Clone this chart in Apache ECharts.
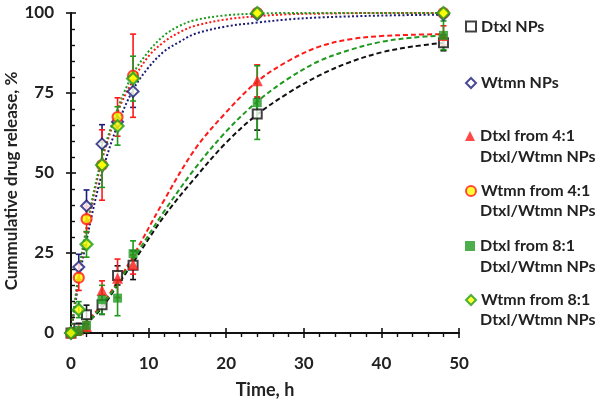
<!DOCTYPE html>
<html><head><meta charset="utf-8">
<script src="https://cdn.jsdelivr.net/npm/echarts@6/dist/echarts.min.js"></script>
<style>html,body{margin:0;padding:0;background:#fff}#c{width:600px;height:400px}</style>
</head><body><div id="c"></div>
<script>
// ---- data ----
const times = [0, 1, 2, 4, 6, 8, 24, 48];
const dtxlNP    = [0, 1.5, 5.7, 8.8, 18, 21.2, 68.4, 90.7];
const dtxlNPErr = [0, 1.5, 3, 3, 3, 4.5, 5, 2.5];
const wtmnNP    = [0, 20.6, 39.7, 59.1, 66, 75.5, 99.5, 99.5];
const wtmnNPErr = [0, 4, 5, 6, 0, 5, 0, 0];
const dtxl41    = [0, 1, 2, 13.3, 17.1, 21.4, 78.8, 93];
const dtxl41Err = [0, 1, 1.5, 3, 6, 3, 5, 3];
const wtmn41    = [0, 17.3, 35.6, 52.5, 67.5, 80.4, 100, 100];
const wtmn41Err = [0, 4, 4, 11, 6, 13, 0, 0];
const dtxl81    = [0, 0.8, 2.4, 10.4, 10.9, 24.8, 72, 93];
const dtxl81Err = [0, 1.5, 2, 4.5, 5.5, 4, 11.5, 4.5];
const wtmn81    = [0, 7.3, 27.7, 52.5, 64.7, 79.5, 100, 100];
const wtmn81Err = [0, 2.5, 4, 7, 6, 7, 0, 0];

// fitted curves
const curveTW = [0, 1, 2, 4, 6, 8, 10, 12, 14, 16, 20, 24, 28, 32, 40, 48];
const curveWtmnNP = [0, 16, 29, 50, 65, 76, 83, 88, 91, 93.5, 95.8, 97, 98, 98.6, 99.2, 99.5];
const curveWtmn41 = [0, 18, 32, 54, 69, 79, 86.5, 91, 94, 96, 98, 99, 99.6, 99.8, 100, 100];
const curveWtmn81 = [0, 19, 33, 55, 70, 81, 88, 93, 96, 97.8, 99.3, 99.8, 100, 100, 100, 100];
const curveTD = [0, 2, 4, 6, 8, 12, 16, 20, 24, 28, 32, 36, 40, 44, 48];
const curveDtxlNP = [0, 3, 8, 15, 22, 36.5, 48.5, 59.5, 68.3, 75, 80.5, 84.7, 87.7, 89.5, 90.7];
const curveDtxl41 = [0, 3.5, 9, 16, 24, 41.5, 57.5, 69, 78.6, 85, 89.5, 91.8, 92.8, 93.2, 93.4];
const curveDtxl81 = [0, 3, 8.5, 15.5, 23, 38, 51.5, 63, 72.3, 79.5, 85, 88.5, 91, 92.3, 93];

const xTicks = [0, 10, 20, 30, 40, 50];
const yTicks = [0, 25, 50, 75, 100];

const names = ['Dtxl NPs', 'Wtmn NPs', 'Dtxl from 4:1', 'Wtmn from 4:1', 'Dtxl from 8:1', 'Wtmn from 8:1'];
const secondLine = 'Dtxl/Wtmn NPs';
const yTitle = 'Cummulative drug release, %';
const xTitle = 'Time, h';

// ---- styles ----
const BLACK = '#111', NAVY = '#1c1c78', RED = '#ff1a1a', GREEN = '#1f9a1f', YELLOW = '#ffff00';
const FONT = 'Lato';
const pts = (xs, ys) => xs.map((t, i) => [t, ys[i]]);
const errPts = (ys, es) => times.map((t, i) => [t, ys[i], es[i]]);

function errSeries(ys, es, color) {
  return {
    type: 'custom', z: 2, silent: true,
    data: errPts(ys, es),
    encode: { x: 0, y: 1 },
    renderItem: function (params, api) {
      const x = api.value(0), y = api.value(1), e = api.value(2);
      if (!e) return null;
      const top = api.coord([x, y + e]);
      const bot = api.coord([x, y - e]);
      const w = 3;
      const st = { stroke: color, lineWidth: 1.6 };
      return {
        type: 'group', children: [
          { type: 'line', shape: { x1: top[0], y1: top[1], x2: bot[0], y2: bot[1] }, style: st },
          { type: 'line', shape: { x1: top[0] - w, y1: top[1], x2: top[0] + w, y2: top[1] }, style: st },
          { type: 'line', shape: { x1: bot[0] - w, y1: bot[1], x2: bot[0] + w, y2: bot[1] }, style: st }
        ]
      };
    }
  };
}
function curve(xs, ys, color, dash) {
  return {
    type: 'line', z: 1, silent: true, smooth: 0.35, showSymbol: false, symbol: 'none',
    data: pts(xs, ys),
    lineStyle: { color: color, width: 2, type: dash }
  };
}
function scatter(name, ys, symbol, size, style) {
  return {
    name: name, type: 'scatter', z: 3, symbol: symbol, symbolSize: size,
    data: pts(times, ys), itemStyle: style
  };
}

const DOT = [2, 2.2], DASH = [5, 3];
const series = [
  curve(curveTD, curveDtxlNP, BLACK, DASH),
  curve(curveTW, curveWtmnNP, NAVY, DOT),
  curve(curveTD, curveDtxl41, RED, DASH),
  curve(curveTW, curveWtmn41, RED, DOT),
  curve(curveTD, curveDtxl81, GREEN, DASH),
  curve(curveTW, curveWtmn81, GREEN, DOT),
  errSeries(dtxlNP, dtxlNPErr, BLACK),
  errSeries(wtmnNP, wtmnNPErr, NAVY),
  errSeries(dtxl41, dtxl41Err, RED),
  errSeries(wtmn41, wtmn41Err, RED),
  errSeries(dtxl81, dtxl81Err, GREEN),
  errSeries(wtmn81, wtmn81Err, GREEN),
  scatter(names[0], dtxlNP, 'rect', 9, { color: '#fff', borderColor: BLACK, borderWidth: 2 }),
  scatter(names[1], wtmnNP, 'diamond', 11, { color: '#fff', borderColor: NAVY, borderWidth: 2 }),
  scatter(names[2], dtxl41, 'triangle', 11, { color: RED }),
  scatter(names[3], wtmn41, 'circle', 10, { color: YELLOW, borderColor: RED, borderWidth: 2.2 }),
  scatter(names[4], dtxl81, 'rect', 9, { color: GREEN }),
  scatter(names[5], wtmn81, 'diamond', 12, { color: YELLOW, borderColor: GREEN, borderWidth: 2.2 })
];

const legendCenters = [23.5, 80, 133, 188, 243, 297];
const secondCenters = [157, 211, 267, 320];
const txt = { fontFamily: FONT, fontWeight: 'bold', fontSize: 16, color: '#222' };
const tickFont = { fontFamily: FONT, fontWeight: 'bold', fontSize: 17, color: '#222' };
const nameFont = { fontFamily: FONT, fontWeight: 'bold', fontSize: 18, color: '#222' };

const axisLineStyle = { lineStyle: { color: '#111', width: 2 } };
const option = {
  animation: false,
  backgroundColor: '#fff',
  grid: { left: 71, right: 141, top: 13, bottom: 67, containLabel: false, outerBoundsMode: 'none' },
  legend: names.map((n, i) => ({
    data: [n], left: 465, top: legendCenters[i] - 5, orient: 'vertical', padding: 0,
    itemWidth: 10, itemHeight: 10, selectedMode: false, textStyle: txt
  })),
  graphic: secondCenters.map(y => ({
    type: 'text', x: 480, y: y,
    style: { text: secondLine, fill: '#222', font: 'bold 16px ' + FONT, verticalAlign: 'middle' }
  })).concat([{
    type: 'text', x: 12, y: 181, rotation: Math.PI / 2,
    style: { text: yTitle, fill: '#222', font: 'bold 17px ' + FONT, align: 'center', verticalAlign: 'middle' }
  }]),
  xAxis: [
    {
      type: 'value', min: xTicks[0], max: xTicks[xTicks.length - 1], interval: 10,
      position: 'bottom', splitLine: { show: false },
      axisLine: axisLineStyle,
      axisTick: { show: true, inside: false, length: 5, lineStyle: { color: '#111', width: 1.6 } },
      minorTick: { show: true, splitNumber: 5, length: 4, lineStyle: { color: '#111', width: 1.4 } },
      axisLabel: Object.assign({ margin: 22 }, tickFont),
      name: xTitle, nameLocation: 'middle', nameGap: 48,
      nameTextStyle: nameFont
    },
    {
      type: 'value', min: xTicks[0], max: xTicks[xTicks.length - 1], interval: 10,
      position: 'bottom', offset: 0, splitLine: { show: false },
      axisLine: { show: false },
      axisTick: { show: true, inside: true, length: 5, lineStyle: { color: '#111', width: 1.6 } },
      axisLabel: { show: false }
    }
  ],
  yAxis: [
    {
      type: 'value', min: yTicks[0], max: yTicks[yTicks.length - 1], interval: 25,
      position: 'left', splitLine: { show: false },
      axisLine: axisLineStyle,
      axisTick: { show: true, inside: false, length: 5, lineStyle: { color: '#111', width: 1.6 } },
      axisLabel: Object.assign({ margin: 17 }, tickFont)
    },
    {
      type: 'value', min: yTicks[0], max: yTicks[yTicks.length - 1], interval: 25,
      position: 'left', offset: 0, splitLine: { show: false },
      axisLine: { show: false },
      axisTick: { show: true, inside: true, length: 5, lineStyle: { color: '#111', width: 1.6 } },
      minorTick: { show: true, splitNumber: 5, length: 4, lineStyle: { color: '#111', width: 1.4 } },
      axisLabel: { show: false }
    }
  ],
  series: series
};
echarts.init(document.getElementById('c'), null, { renderer: 'canvas' }).setOption(option);
</script></body></html>
